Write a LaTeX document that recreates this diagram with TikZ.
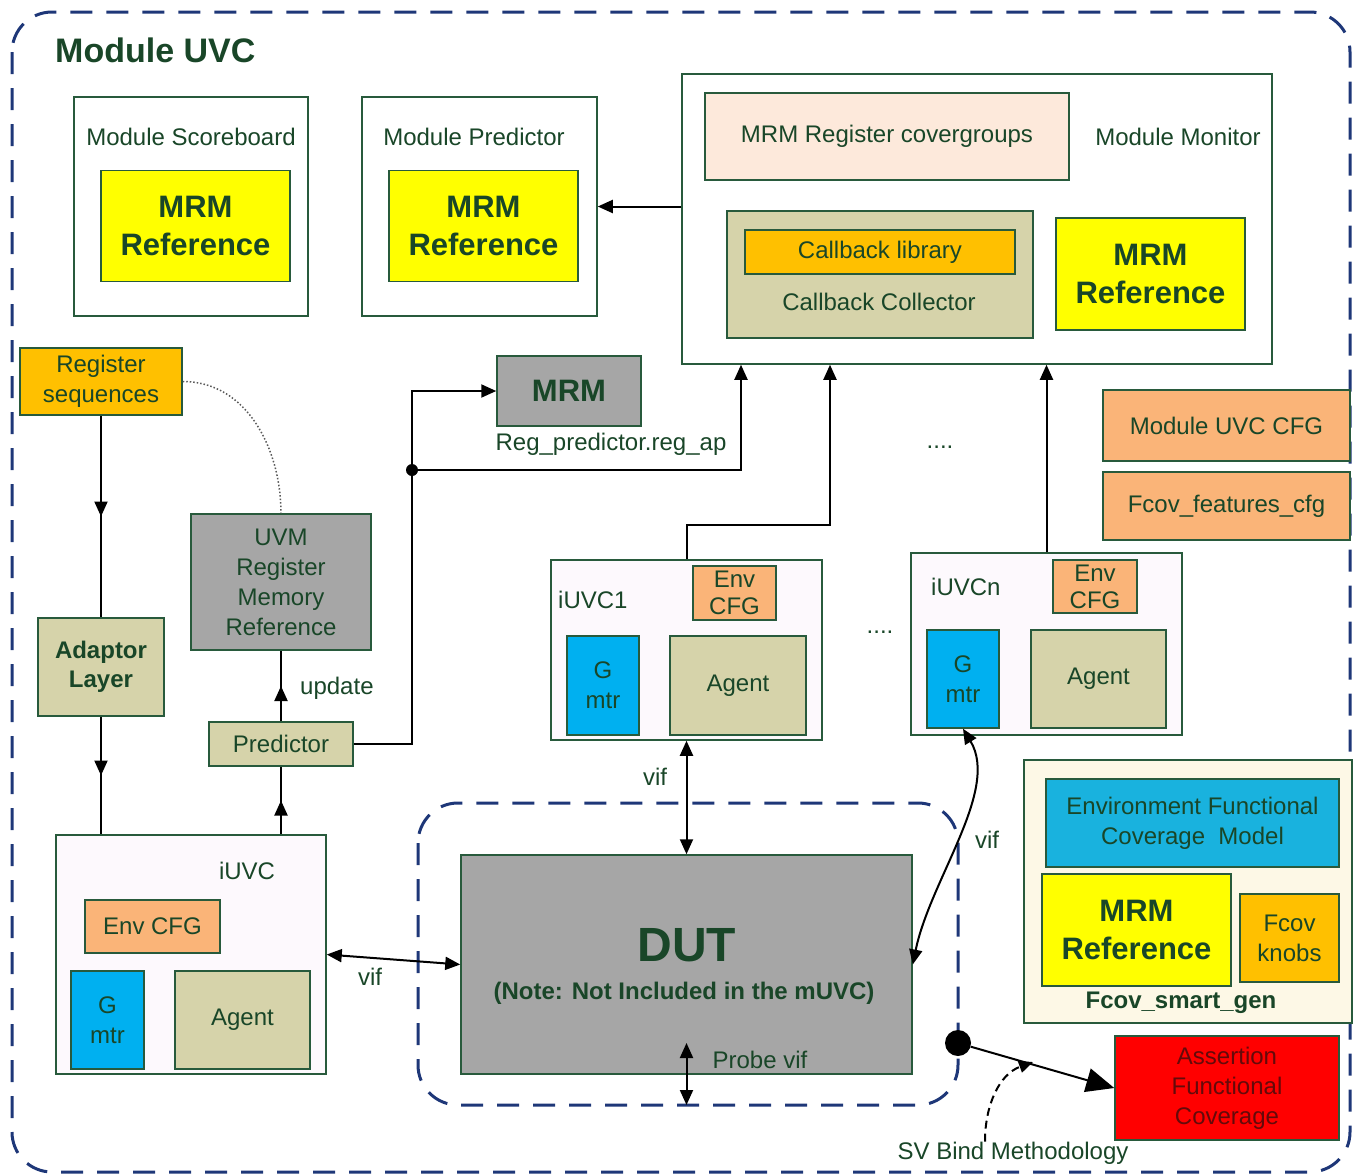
\documentclass[tikz,border=0pt]{standalone}
\usepackage{fontspec}
\setmainfont{Liberation Sans}
\usetikzlibrary{arrows.meta,decorations.markings}

\definecolor{boxline}{RGB}{40,90,60}
\definecolor{txtgreen}{RGB}{25,70,40}
\definecolor{framblue}{RGB}{30,55,120}
\definecolor{mrmyellow}{RGB}{255,255,0}
\definecolor{cbkorange}{RGB}{255,192,0}
\definecolor{cfgpeach}{RGB}{250,180,120}
\definecolor{cvgpeach}{RGB}{253,233,219}
\definecolor{khaki}{RGB}{214,211,170}
\definecolor{dutgray}{RGB}{166,166,166}
\definecolor{mtrblue}{RGB}{0,176,240}
\definecolor{fcmblue}{RGB}{25,178,222}
\definecolor{cream}{RGB}{253,248,230}
\definecolor{uvcpink}{RGB}{253,249,253}
\definecolor{assertred}{RGB}{100,10,10}

\tikzset{
  box/.style={draw=boxline, line width=1.5pt, inner sep=0pt, align=center,
    text=txtgreen, font=\fontsize{24}{30}\selectfont},
  bigtext/.style={font=\bfseries\fontsize{31}{38}\selectfont},
  lbl/.style={text=txtgreen, font=\fontsize{24}{30}\selectfont, inner sep=0pt, align=center},
  wire/.style={line width=2pt, draw=black},
  arr/.style={wire, -{Triangle[length=15pt,width=13pt]}},
  dblarr/.style={wire, {Triangle[length=15pt,width=13pt]}-{Triangle[length=15pt,width=13pt]}},
  midarrow/.style={wire, postaction={decorate},
    decoration={markings, mark=at position 0.5 with {\arrow{Triangle[length=15pt,width=13pt]}}}},
  dashframe/.style={draw=framblue, line width=3pt, dash pattern=on 22pt off 14pt, rounded corners=40pt},
}

\begin{document}
\begin{tikzpicture}[x=1pt,y=-1pt]
    \useasboundingbox (0,0) rectangle (1353,1176);
    \draw[dashframe] (12,12) rectangle (1350,1172);
    \node[lbl, anchor=west, font=\bfseries\fontsize{34}{40}\selectfont] (title) at (55,50) {Module UVC};

    % module scoreboard / predictor
    \node[box, fill=white, minimum width=234pt, minimum height=219pt] (scbmod) at (191,206.5) {};
    \node[lbl] (scbtitle) at (191,137) {Module Scoreboard};
    \node[box, bigtext, fill=mrmyellow, minimum width=189pt, minimum height=111pt] (scbref) at (195.5,226) {MRM\\Reference};

    \node[box, fill=white, minimum width=235pt, minimum height=219pt] (prdmod) at (479.5,206.5) {};
    \node[lbl] (prdtitle) at (474,137) {Module Predictor};
    \node[box, bigtext, fill=mrmyellow, minimum width=189pt, minimum height=111pt] (prdref) at (483.5,226) {MRM\\Reference};

    % module monitor
    \node[box, fill=white, minimum width=590pt, minimum height=290pt] (monitor) at (977,219) {};
    \node[box, fill=cvgpeach, minimum width=364pt, minimum height=87pt] (covgrp) at (887,136.5) {MRM Register covergroups};
    \node[lbl] (montitle) at (1178,137) {Module Monitor};
    \node[box, fill=khaki, minimum width=306pt, minimum height=127pt] (collector) at (880,274.5) {};
    \node[box, fill=cbkorange, minimum width=270pt, minimum height=44pt] (cbklib) at (880,252) {Callback library};
    \node[lbl] (coltitle) at (879,302) {Callback Collector};
    \node[box, bigtext, fill=mrmyellow, minimum width=189pt, minimum height=112pt] (monref) at (1150.5,274) {MRM\\Reference};

    \node[box, fill=cfgpeach, minimum width=247pt, minimum height=71pt] (uvccfg) at (1226.5,425.5) {Module UVC CFG};
    \node[box, fill=cfgpeach, minimum width=247pt, minimum height=68pt] (fcovcfg) at (1226.5,506) {Fcov\_features\_cfg};

    % register side
    \node[box, fill=cbkorange, minimum width=162pt, minimum height=67pt] (regseq) at (101,381.5) {Register\\sequences};
    \node[box, fill=khaki, font=\bfseries\fontsize{24}{29}\selectfont, minimum width=126pt, minimum height=98pt] (adaptor) at (101,667) {Adaptor\\Layer};
    \node[box, fill=dutgray, minimum width=180pt, minimum height=136pt] (uvmreg) at (281,582) {UVM\\Register\\Memory\\Reference};
    \node[box, fill=khaki, minimum width=144pt, minimum height=44pt] (predictor) at (281,744) {Predictor};
    \node[box, bigtext, fill=dutgray, minimum width=144pt, minimum height=70pt] (mrm) at (569,391) {MRM};
    \node[lbl] (regap) at (611,444) {Reg\_predictor.reg\_ap};
    \node[lbl, anchor=west] (update) at (300,688) {update};

    % interface uvcs
    \node[box, fill=uvcpink, minimum width=271pt, minimum height=180pt] (iuvca) at (686.5,650) {};
    \node[lbl, anchor=west] (iuvcatitle) at (558,600) {iUVC1};
    \node[box, fill=cfgpeach, font=\fontsize{24}{27}\selectfont, minimum width=83pt, minimum height=54pt] (envcfga) at (734.5,593) {Env\\CFG};
    \node[box, fill=mtrblue, minimum width=72pt, minimum height=99pt] (gmtra) at (603,685.5) {G\\mtr};
    \node[box, fill=khaki, minimum width=136pt, minimum height=99pt] (agenta) at (738,685.5) {Agent};

    \node[box, fill=uvcpink, minimum width=271pt, minimum height=182pt] (iuvcn) at (1046.5,644) {};
    \node[lbl, anchor=west] (iuvcntitle) at (931,587) {iUVCn};
    \node[box, fill=cfgpeach, font=\fontsize{24}{27}\selectfont, minimum width=84pt, minimum height=53pt] (envcfgn) at (1095,586.5) {Env\\CFG};
    \node[box, fill=mtrblue, minimum width=72pt, minimum height=98pt] (gmtrn) at (963,679) {G\\mtr};
    \node[box, fill=khaki, minimum width=135pt, minimum height=98pt] (agentn) at (1098.5,679) {Agent};

    \node[lbl] (dotsa) at (940,447) {....};
    \node[lbl] (dotsb) at (880,632) {....};

    \node[box, fill=uvcpink, minimum width=270pt, minimum height=239pt] (iuvc) at (191,954.5) {};
    \node[lbl] (iuvctitle) at (247,871) {iUVC};
    \node[box, fill=cfgpeach, minimum width=135pt, minimum height=53pt] (envcfg) at (152.5,926.5) {Env CFG};
    \node[box, fill=mtrblue, minimum width=73pt, minimum height=98pt] (gmtr) at (107.5,1020) {G\\mtr};
    \node[box, fill=khaki, minimum width=135pt, minimum height=98pt] (agent) at (242.5,1020) {Agent};

    % dut
    \draw[dashframe] (418,803) rectangle (958,1105);
    \node[box, fill=dutgray, minimum width=451pt, minimum height=219pt] (dut) at (686.5,964.5) {};
    \node[lbl, font=\bfseries\fontsize{48}{50}\selectfont] (duttitle) at (687,945) {DUT};
    \node[lbl, font=\bfseries\fontsize{24}{26}\selectfont] (dutnote) at (684,993) {(Note: Not Included in the mUVC)};
    \node[lbl] (probe) at (760,1060) {Probe vif};

    % coverage
    \node[box, fill=cream, minimum width=328pt, minimum height=263pt] (fcovgen) at (1188,891.5) {};
    \node[box, fill=fcmblue, minimum width=293pt, minimum height=88pt] (envfcm) at (1192.5,823) {Environment Functional\\Coverage\ \ Model};
    \node[box, bigtext, fill=mrmyellow, minimum width=189pt, minimum height=112pt] (fcovref) at (1136.5,930) {MRM\\Reference};
    \node[box, fill=cbkorange, minimum width=99pt, minimum height=88pt] (knobs) at (1289.5,938) {Fcov\\knobs};
    \node[lbl, font=\bfseries\fontsize{24}{28}\selectfont] (fcovtitle) at (1181,1003) {Fcov\_smart\_gen};
    \node[box, fill=red, text=assertred, minimum width=224pt, minimum height=104pt] (assert) at (1227,1088) {Assertion\\Functional\\Coverage};
    \node[lbl] (svbind) at (1013,1153) {SV Bind Methodology};

    % connections
    \coordinate (split) at (412,470);
    \coordinate (bend) at (830,525);
    \coordinate (probetop) at (686.5,1043);
    \coordinate (probebot) at (686.5,1105);
    \coordinate (bindtip) at (1033,1062);
    \draw[arr] (monitor.west |- prdmod.east) -- (prdmod.east);
    \draw[midarrow] (regseq) -- (adaptor);
    \draw[midarrow] (adaptor) -- (adaptor |- iuvc.north);
    \draw[midarrow] (iuvc.north -| predictor) -- (predictor);
    \draw[midarrow] (predictor) -- (uvmreg);
    \draw[line width=1.5pt, dotted, gray!70!black] (regseq.east) to[out=0,in=90] (uvmreg.north);
    \draw[arr] (predictor.east) -| (split) |- (mrm.west);
    \fill (split) circle (6);
    \draw[arr] (split) -| (monitor.south -| 741,0);
    \draw[arr] (iuvca.north) |- (bend) -- (bend |- monitor.south);
    \draw[arr] (iuvcn.north) -- (iuvcn.north |- monitor.south);
    \draw[dblarr] (iuvca.south) -- (iuvca.south |- dut.north);
    \node[lbl] (vifa) at (655,777) {vif};
    \draw[dblarr] (iuvc.east) -- (dut.west);
    \node[lbl] (vifb) at (370,977) {vif};
    \draw[dblarr] (gmtrn.south) .. controls (1000,790) and (930,880) .. (dut.east);
    \node[lbl] (vifn) at (987,840) {vif};
    \draw[dblarr] (probetop) -- (probebot);
    \node[circle, fill=black, inner sep=0pt, minimum size=26pt] (tap) at (958,1043) {};
    \draw[wire, -{Triangle[length=28pt,width=24pt]}] (tap) -- (assert.west);
    \draw[wire, dash pattern=on 8pt off 5pt, -{Triangle[length=14pt,width=12pt]}] ([xshift=-28pt]svbind.north) to[out=90,in=200] (bindtip);
\end{tikzpicture}
\end{document}
